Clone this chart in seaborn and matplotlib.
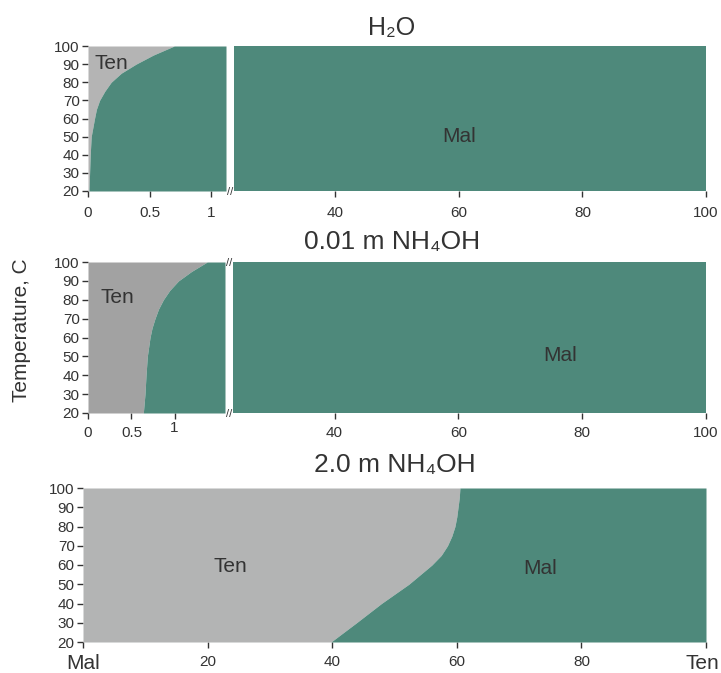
import matplotlib
matplotlib.use("Agg")
import matplotlib.pyplot as plt
from matplotlib.transforms import offset_copy
import seaborn as sns

# data (temperature vs. fraction at phase boundary)
temps = [20, 30, 40, 50, 60, 65, 70, 75, 80, 85, 90, 95, 100]
h2o_boundary = [0.008, 0.013, 0.018, 0.026, 0.053, 0.068, 0.094, 0.136, 0.188, 0.27, 0.39, 0.53, 0.70]
nh4_low_boundary = [0.636, 0.655, 0.667, 0.682, 0.713, 0.736, 0.77, 0.81, 0.866, 0.94, 1.04, 1.19, 1.37]
nh4_high_boundary = [39.8, 43.9, 47.9, 52.3, 56.0, 57.5, 58.5, 59.2, 59.7, 60.0, 60.2, 60.4, 60.5]

titles = ["H₂O", "0.01 m NH₄OH", "2.0 m NH₄OH"]
yticks = [20, 30, 40, 50, 60, 70, 80, 90, 100]
right_ticks = [40, 60, 80, 100]
bottom_ticks = [0, 20, 40, 60, 80, 100]
bottom_ticklabels = ["", "20", "40", "60", "80", ""]

GREEN = "#4e897b"
GRAY_TOP = "#b4b4b4"
GRAY_MID = "#a2a2a2"
GRAY_BOT = "#b3b4b4"
TXT = "#333333"

sns.set_theme(style="ticks")
plt.rcParams["font.family"] = ["Liberation Sans", "DejaVu Sans"]

W, H = 721, 673
fig = plt.figure(figsize=(W / 100, H / 100), dpi=100)
fig.patch.set_facecolor("white")


def rect(x0, y0, x1, y1):
    return [x0 / W, 1 - y1 / H, (x1 - x0) / W, (y1 - y0) / H]


def style(ax, xpad, show_y=True):
    for s in ax.spines.values():
        s.set_visible(False)
    ax.set_ylim(20, 100)
    ax.tick_params(direction="out", length=4, width=1, colors=TXT, labelsize=11, pad=2)
    ax.tick_params(axis="x", pad=xpad)
    if show_y:
        ax.set_yticks(yticks)
    else:
        ax.set_yticks([])
        ax.tick_params(axis="y", left=False)


def broken_panel(y0, y1, left_x1, left_xmax, left_ticks, left_labels, boundary, gray, marks_top, xpad):
    axl = fig.add_axes(rect(88, y0, left_x1, y1))
    axr = fig.add_axes(rect(left_x1 + 8, y0, 706, y1))
    axl.fill_betweenx(temps, 0, boundary, color=gray, lw=0)
    axl.fill_betweenx(temps, boundary, left_xmax, color=GREEN, lw=0)
    axl.set_xlim(0, left_xmax)
    style(axl, xpad)
    axl.set_xticks(left_ticks)
    axl.set_xticklabels(left_labels)
    axr.fill_betweenx(temps, 23.6, 100, color=GREEN, lw=0)
    axr.set_xlim(23.6, 100)
    style(axr, xpad, show_y=False)
    axr.set_xticks(right_ticks)
    # break marks
    xm = (left_x1 + 4) / W
    fig.text(xm, 1 - (y1 + 1) / H, "//", ha="center", va="center", fontsize=8, color=TXT)
    if marks_top:
        fig.text(xm, 1 - (y0 + 1) / H, "//", ha="center", va="center", fontsize=8, color=TXT)
    return axl, axr


# top panel: H2O
axl, axr = broken_panel(46, 191, 226, 1.12, [0, 0.5, 1], ["0", "0.5", "1"],
                        h2o_boundary, GRAY_TOP, False, 7)
axl.text(0.055, 90.5, "Ten", fontsize=15, color=TXT, va="center")
axr.text(60, 50, "Mal", fontsize=15, color=TXT, ha="center", va="center")
fig.text(392 / W, 1 - 28 / H, titles[0], fontsize=18, color=TXT, ha="center", va="center")

# middle panel: 0.01 m NH4OH
axl, axr = broken_panel(262, 413, 225, 1.575, [0, 0.5, 1], ["0", "0.5", ""],
                        nh4_low_boundary, GRAY_MID, True, 5.6)
axl.text(0.985, 0, "1", fontsize=11, color=TXT, ha="center", va="top",
         transform=offset_copy(axl.get_xaxis_transform(), fig, y=-8, units="dots"))
axl.text(0.138, 81, "Ten", fontsize=15, color=TXT, va="center")
axr.text(76.5, 50.5, "Mal", fontsize=15, color=TXT, ha="center", va="center")
fig.text(392 / W, 1 - 242 / H, titles[1], fontsize=19, color=TXT, ha="center", va="center")

# bottom panel: 2.0 m NH4OH
axb = fig.add_axes(rect(83, 488, 706, 642))
axb.fill_betweenx(temps, 0, nh4_high_boundary, color=GRAY_BOT, lw=0)
axb.fill_betweenx(temps, nh4_high_boundary, 100, color=GREEN, lw=0)
axb.set_xlim(0, 100)
style(axb, 5)
axb.set_xticks(bottom_ticks)
axb.set_xticklabels(bottom_ticklabels)
axb.text(0, 0, "Mal", fontsize=15, color=TXT, ha="center", va="top",
         transform=offset_copy(axb.get_xaxis_transform(), fig, y=-12, units="dots"))
axb.text(100, 0, "Ten", fontsize=15, color=TXT, ha="center", va="top",
         transform=offset_copy(axb.get_xaxis_transform(), fig, x=-4, y=-12, units="dots"))
axb.text(23.6, 59, "Ten", fontsize=15, color=TXT, ha="center", va="center")
axb.text(73.4, 58, "Mal", fontsize=15, color=TXT, ha="center", va="center")
fig.text(395 / W, 1 - 465 / H, titles[2], fontsize=19, color=TXT, ha="center", va="center")

fig.text(22 / W, 1 - 330 / H, "Temperature, C", rotation=90, fontsize=15,
         color=TXT, ha="center", va="center")

fig.savefig("out.png", dpi=100)
